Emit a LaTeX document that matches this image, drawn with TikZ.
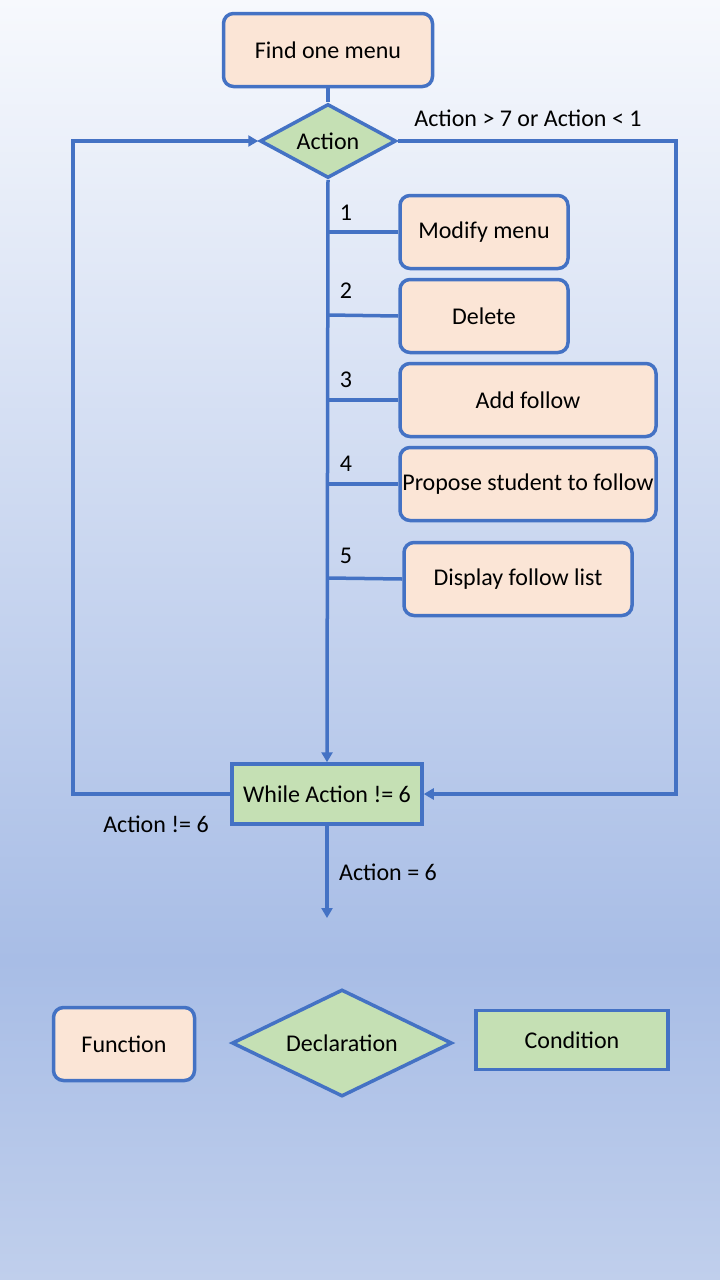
\documentclass[tikz,border=0pt]{standalone}
\usepackage{fontspec}
\setmainfont{Carlito}
\usetikzlibrary{arrows.meta,positioning,shapes.geometric}

\definecolor{lineblue}{HTML}{4472C4}
\definecolor{fnfill}{HTML}{FBE5D6}
\definecolor{cdfill}{HTML}{C5E0B4}
\definecolor{bgtop}{HTML}{F7F9FD}
\definecolor{bgmid}{HTML}{A8BDE6}
\definecolor{bgbot}{HTML}{C0CFEC}

\tikzset{
  func/.style={draw=lineblue,fill=fnfill,line width=3.5pt,rounded corners=10pt,
    minimum height=73pt,inner sep=1pt},
  decl/.style={draw=lineblue,fill=cdfill,line width=3.5pt,diamond,aspect=1.84,inner sep=1pt},
  cond/.style={draw=lineblue,fill=cdfill,line width=3.5pt,minimum height=60pt,inner sep=1pt},
  lbl/.style={inner sep=0pt},
  flow/.style={draw=lineblue,line width=3.5pt},
}

\begin{document}
\begin{tikzpicture}[x=1pt,y=-1pt,font=\fontsize{24}{28}\selectfont,node distance=84pt,on grid]
    % background
    \fill[top color=bgtop,bottom color=bgmid] (0,0) rectangle (720,960);
    \fill[top color=bgmid,bottom color=bgbot] (0,960) rectangle (720,1280);
    \useasboundingbox (0,0) rectangle (720,1280);

    \node[func,minimum width=209pt] (f_0) at (328,50)   {Find one menu};
    \node[decl,minimum width=136pt,minimum height=74pt] (d_0) [below=91pt of f_0] {Action};
    \node[func,minimum width=168pt] (f_1) at (484,232)  {Modify menu};
    \node[func,minimum width=168pt] (f_2) [below=84pt of f_1] {Delete};
    \node[func,minimum width=256pt] (f_3) at (528,400)  {Add follow};
    \node[func,minimum width=256pt] (f_4) [below=of f_3] {Propose student to follow};
    \node[func,minimum width=228pt] (f_5) at (518,579)  {Display follow list};
    \node[cond,minimum width=190pt] (c_0) at (327,794)  {While Action != 6};

    % trunk and branches
    \coordinate (t_1) at (328,232);
    \coordinate (t_2) at (328,315);
    \coordinate (t_3) at (328,400);
    \coordinate (t_4) at (328,484);
    \coordinate (t_5) at (328,578);
    \coordinate (end) at (327,918);
    \path[flow] (f_0) -- (d_0);
    \path[flow,-{Triangle[width=11pt,length=10pt]}] (d_0.south) -- (c_0.north);
    \foreach \i in {1,...,5}
      \path[flow] (t_\i) -- (f_\i.west);
    \foreach \i/\y in {1/213,2/291,3/380,4/464,5/556}
      \node[lbl] (n_\i) at (346,\y) {\i};

    % loops
    \path[flow,-{Triangle[width=11pt,length=10pt]}] (c_0.west) -- (73,794) |- (d_0.west);
    \path[flow,-{Triangle[width=11pt,length=10pt]}] (d_0.east) -- (676,141) |- (c_0.east);
    \path[flow,-{Triangle[width=11pt,length=10pt]}] (c_0.south) -- (end);
    \node[lbl] (e_1) at (528,118) {Action > 7 or Action < 1};
    \node[lbl] (e_2) at (156,824) {Action != 6};
    \node[lbl] (e_3) at (388,872) {Action = 6};

    % legend
    \node[func,minimum width=141pt] (l_1) at (124,1044) {Function};
    \node[decl,minimum width=220pt,minimum height=107pt] (l_2) at (342,1043) {Declaration};
    \node[cond,minimum width=192pt,minimum height=59pt] (l_3) at (572,1040) {Condition};
\end{tikzpicture}
\end{document}
